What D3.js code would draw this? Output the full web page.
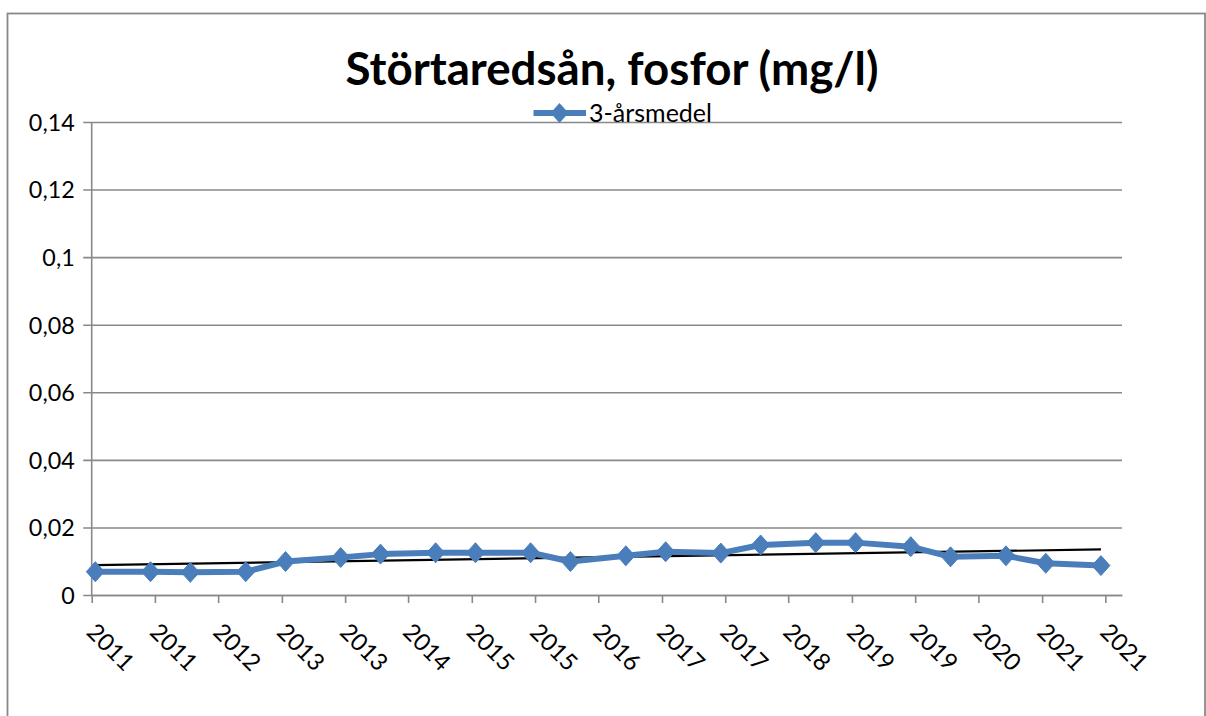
<!DOCTYPE html>
<html>
<head>
<meta charset="utf-8">
<script src="https://cdn.jsdelivr.net/npm/d3@7"></script>
<style>
  html, body { margin: 0; padding: 0; background: #fff; }
  svg { display: block; }
  text { font-family: Lato, "Liberation Sans", sans-serif; fill: #000; }
</style>
</head>
<body>
<svg id="chart" width="1206" height="716"></svg>
<script>
// ---- data ----
const title = "Störtaredsån, fosfor (mg/l)";
const seriesName = "3-årsmedel";
const dates = ["2011-01","2011-08","2012-01","2012-08","2013-01","2013-08","2014-01","2014-08",
               "2015-01","2015-08","2016-01","2016-08","2017-01","2017-08","2018-01","2018-08",
               "2019-01","2019-08","2020-01","2020-08","2021-01","2021-08"];
const values = [0.0069,0.0069,0.0067,0.0069,0.0099,0.0111,0.0121,0.0125,
                0.0125,0.0125,0.0099,0.0116,0.0128,0.0124,0.0148,0.0155,
                0.0155,0.0143,0.0113,0.0116,0.0094,0.0087];
const yTicks = [0, 0.02, 0.04, 0.06, 0.08, 0.1, 0.12, 0.14];
const xTickCount = 17, xTickStepMonths = 8;

// ---- setup ----
const svg = d3.select("#chart");
const plot = {left: 91.7, right: 1122, top: 122, bottom: 595};
const gridColor = "#898989";
const blue = "#4a7ebb";

const parse = d3.timeParse("%Y-%m");
const data = dates.map((d, i) => ({date: d3.timeDay.offset(parse(d), 14), value: values[i]}));
const axisStart = new Date(2011, 0, 1);
const axisEnd = d3.timeDay.offset(new Date(2021, 10, 1), 3);

const x = d3.scaleTime().domain([axisStart, axisEnd]).range([plot.left, plot.right]);
const y = d3.scaleLinear().domain([0, 0.14]).range([plot.bottom, plot.top]);

const locale = d3.formatLocale({decimal: ",", thousands: " ", grouping: [3], currency: ["", " kr"]});
const yFmt = locale.format("~g");

// chart border
svg.append("rect").attr("x", 7.5).attr("y", 13.5).attr("width", 1197.5).attr("height", 720)
  .attr("fill", "#fff").attr("stroke", gridColor).attr("stroke-width", 1.8);

// gridlines + y axis
const yAxis = d3.axisLeft(y).tickValues(yTicks).tickFormat(yFmt)
  .tickSize(-(plot.right - plot.left)).tickSizeOuter(0).tickPadding(17);
const gy = svg.append("g").attr("transform", `translate(${plot.left},0)`).call(yAxis);
gy.select(".domain").remove();
gy.selectAll(".tick line").attr("stroke", gridColor).attr("stroke-width", 1.6).attr("x1", -8.5);
gy.selectAll(".tick text").attr("font-size", "23.3px").attr("font-family", "Lato, sans-serif")
  .attr("fill", "#000").attr("dy", "0.36em");

// vertical axis line
svg.append("line").attr("x1", plot.left).attr("x2", plot.left).attr("y1", plot.top).attr("y2", plot.bottom)
  .attr("stroke", gridColor).attr("stroke-width", 1.6);

// x axis
const xTickValues = d3.range(xTickCount).map(k => d3.timeMonth.offset(axisStart, k * xTickStepMonths));
const xAxis = d3.axisBottom(x).tickValues(xTickValues).tickFormat(d3.timeFormat("%Y"))
  .tickSize(8).tickSizeOuter(0);
const gx = svg.append("g").attr("transform", `translate(0,${plot.bottom})`).call(xAxis);
gx.select(".domain").attr("stroke", gridColor).attr("stroke-width", 1.6);
gx.selectAll(".tick line").attr("stroke", gridColor).attr("stroke-width", 1.6);
gx.selectAll(".tick text")
  .attr("font-size", "23.8px").attr("font-family", "Lato, sans-serif").attr("fill", "#000")
  .attr("text-anchor", "start").attr("x", 0).attr("y", 0).attr("dy", 0)
  .attr("transform", "translate(-7,38.5) rotate(45)");

// trend line (least squares on dates)
const xs = data.map(d => +d.date), ys = data.map(d => d.value);
const mx = d3.mean(xs), my = d3.mean(ys);
const slope = d3.sum(xs.map((v, i) => (v - mx) * (ys[i] - my))) / d3.sum(xs.map(v => (v - mx) ** 2));
const icpt = my - slope * mx;
const tx0 = data[0].date, tx1 = data[data.length - 1].date;
svg.append("line")
  .attr("x1", x(tx0)).attr("y1", y(icpt + slope * +tx0))
  .attr("x2", x(tx1)).attr("y2", y(icpt + slope * +tx1))
  .attr("stroke", "#000").attr("stroke-width", 2.2);

// series line
const line = d3.line().x(d => x(d.date)).y(d => y(d.value));
svg.append("path").datum(data).attr("d", line)
  .attr("fill", "none").attr("stroke", blue).attr("stroke-width", 6).attr("stroke-linejoin", "round");

const diamond = "M0,-10L9,0L0,10L-9,0Z";
svg.append("g").selectAll("path").data(data).join("path")
  .attr("transform", d => `translate(${x(d.date)},${y(d.value)})`)
  .attr("d", diamond).attr("fill", blue).attr("stroke", blue).attr("stroke-width", 1);

// title
const t = svg.append("text").attr("x", 612).attr("y", 84.5).attr("text-anchor", "middle")
  .attr("font-weight", "bold").style("font-size", "48px").text(title);
const tw = t.node().getComputedTextLength();
t.style("font-size", (48 * 533 / tw) + "px");

// legend
const lg = svg.append("g");
lg.append("line").attr("x1", 533.5).attr("x2", 586).attr("y1", 113).attr("y2", 113)
  .attr("stroke", blue).attr("stroke-width", 6);
lg.append("path").attr("transform", "translate(559.5,113)").attr("d", diamond).attr("fill", blue);
const lt = lg.append("text").attr("x", 589).attr("y", 113).attr("dy", "0.36em")
  .style("font-size", "23.3px").text(seriesName);
const lw = lt.node().getComputedTextLength();
lt.style("font-size", Math.min(26, 23.3 * 123 / lw) + "px");
</script>
</body>
</html>
